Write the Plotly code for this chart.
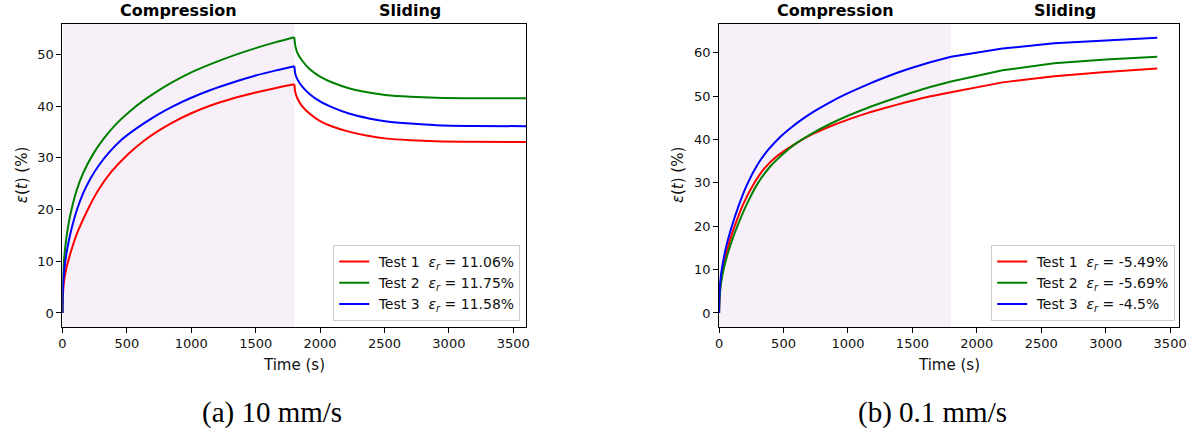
import plotly.graph_objects as go

# ---------------- data: (a) 10 mm/s ----------------
a_t1 = [0, 2, 6, 15, 30, 51, 80, 120, 197, 280, 380, 505, 633, 750, 854, 1000, 1150, 1328, 1500, 1650, 1800,
        1808, 1825, 1860, 1920, 2000, 2100, 2230, 2380, 2520, 2700, 2900, 3200, 3600]
a_v1 = [0, 2.5, 4.5, 6.6, 8.6, 10.6, 13.0, 15.8, 20.0, 23.8, 27.3, 30.6, 33.3, 35.3, 36.8, 38.6, 40.1, 41.5, 42.6, 43.45, 44.2,
        42.6, 41.4, 40.0, 38.5, 37.1, 36.0, 35.0, 34.2, 33.7, 33.4, 33.2, 33.1, 33.05]

a_t2 = [0, 2, 5, 13, 30, 50, 72, 110, 160, 240, 320, 420, 520, 620, 720, 854, 1000, 1150, 1330, 1500, 1650, 1800,
        1808, 1825, 1860, 1920, 2000, 2100, 2230, 2380, 2520, 2700, 2900, 3200, 3600]
a_v2 = [0, 4.5, 7.3, 10.5, 14.4, 17.6, 20.2, 23.7, 27.0, 30.8, 33.7, 36.6, 38.9, 40.9, 42.6, 44.6, 46.5, 48.1, 49.8, 51.2, 52.3, 53.3,
        51.6, 50.2, 48.8, 47.1, 45.7, 44.5, 43.4, 42.6, 42.1, 41.8, 41.6, 41.5, 41.5]

a_t3 = [0, 2, 6, 15, 31, 55, 80, 113, 160, 220, 290, 364, 450, 550, 650, 750, 854, 1000, 1150, 1328, 1500, 1650, 1800,
        1808, 1825, 1860, 1920, 2000, 2100, 2230, 2380, 2520, 2700, 2900, 3200, 3600]
a_v3 = [0, 3.5, 5.9, 8.5, 11.5, 14.6, 17.2, 20.0, 23.1, 26.1, 28.8, 31.1, 33.3, 35.25, 36.95, 38.5, 39.9, 41.6, 43.1, 44.6, 45.9, 46.85, 47.7,
        46.2, 45.1, 43.8, 42.3, 40.9, 39.7, 38.5, 37.6, 37.0, 36.6, 36.3, 36.15, 36.1]

# ---------------- data: (b) 0.1 mm/s ----------------
b_t1 = [0, 3, 10, 25, 42, 80, 125, 190, 265, 350, 450, 600, 720, 850, 1000, 1150, 1300, 1450, 1600, 1800, 2200, 2600, 3000, 3400]
b_v1 = [0, 3.6, 6.4, 9.5, 12.0, 16.4, 20.4, 25.3, 29.6, 33.3, 36.2, 39.2, 41.2, 42.9, 44.6, 46.1, 47.4, 48.6, 49.7, 50.9, 53.2, 54.6, 55.6, 56.4]

b_t2 = [0, 3, 10, 25, 50, 95, 148, 220, 300, 400, 500, 600, 720, 860, 1000, 1150, 1300, 1450, 1600, 1800, 2200, 2600, 3000, 3400]
b_v2 = [0, 3.0, 5.6, 8.6, 11.9, 16.3, 20.5, 25.4, 29.9, 33.9, 36.8, 39.2, 41.4, 43.6, 45.5, 47.3, 48.9, 50.4, 51.8, 53.4, 56.0, 57.6, 58.5, 59.1]

b_t3 = [0, 3, 10, 30, 60, 100, 150, 215, 300, 380, 470, 560, 660, 760, 860, 1000, 1150, 1300, 1450, 1600, 1800, 2200, 2600, 3000, 3400]
b_v3 = [0, 4.2, 7.7, 11.7, 15.9, 20.1, 24.6, 29.5, 34.3, 37.6, 40.5, 42.8, 45.0, 46.9, 48.6, 50.7, 52.7, 54.5, 56.1, 57.5, 59.1, 61.0, 62.2, 62.9, 63.5]

labels_a = ["11.06%", "11.75%", "11.58%"]
labels_b = ["-5.49%", "-5.69%", "-4.5%"]
test_names = ["Test 1", "Test 2", "Test 3"]
colors = ["#ff0000", "#008000", "#0000ff"]
x_ticks = [0, 500, 1000, 1500, 2000, 2500, 3000, 3500]
captions = ["(a) 10 mm/s", "(b) 0.1 mm/s"]
phase_titles = ["Compression", "Sliding"]
t_switch = 1800

W, H = 1203, 434
FONT = "DejaVu Sans"

fig = go.Figure()

def leg_text(name, val):
    return f"\u00a0{name}\u00a0\u00a0<i>ε</i><sub><i>r</i></sub> = {val}"

def add_series(t, v, color, label, xa, ya, leg, slide_shape):
    k = t.index(t_switch)
    # compression phase (smooth)
    fig.add_trace(go.Scatter(x=t[:k + 1], y=v[:k + 1], mode="lines",
                             line=dict(color=color, width=2, shape="spline", smoothing=0.8),
                             name=label, xaxis=xa, yaxis=ya, legend=leg, legendgroup=label + xa))
    # sliding phase
    fig.add_trace(go.Scatter(x=t[k:], y=v[k:], mode="lines",
                             line=dict(color=color, width=2, shape=slide_shape, smoothing=0.8),
                             name=label, xaxis=xa, yaxis=ya, legend=leg, legendgroup=label + xa,
                             showlegend=False))

sets_a = [(a_t1, a_v1), (a_t2, a_v2), (a_t3, a_v3)]
sets_b = [(b_t1, b_v1), (b_t2, b_v2), (b_t3, b_v3)]
for i, (t, v) in enumerate(sets_a):
    add_series(t, v, colors[i], leg_text(test_names[i], labels_a[i]), "x", "y", "legend", "spline")
for i, (t, v) in enumerate(sets_b):
    add_series(t, v, colors[i], leg_text(test_names[i], labels_b[i]), "x2", "y2", "legend2", "linear")

y_top = 1 - 24 / H
y_bot = 1 - 326.7 / H
dom_a = [59 / W, 527 / W]
dom_b = [721.7 / W, 1186 / W]
xr_a = [0, 3600]
xr_b = [0, 3570]
yr_a = [-2.66, 55.86]
yr_b = [-3.17, 66.67]

axis_common = dict(showline=True, mirror=True, linecolor="black", linewidth=1, ticks="outside",
                   ticklen=5, tickwidth=1, tickcolor="black", showgrid=False, zeroline=False,
                   tickfont=dict(family=FONT, size=13, color="#111"))

legend_common = dict(xanchor="right", yanchor="bottom", bgcolor="white",
                     bordercolor="#cccccc", borderwidth=1, font=dict(family=FONT, size=14, color="#111"),
                     itemwidth=30, tracegroupgap=0)

fig.update_layout(
    width=W, height=H, margin=dict(l=0, r=0, t=0, b=0),
    paper_bgcolor="white", plot_bgcolor="white",
    xaxis=dict(domain=dom_a, range=xr_a, anchor="y", tickvals=x_ticks, **axis_common),
    yaxis=dict(domain=[y_bot, y_top], range=yr_a, anchor="x", tickvals=[0, 10, 20, 30, 40, 50], **axis_common),
    xaxis2=dict(domain=dom_b, range=xr_b, anchor="y2", tickvals=x_ticks, **axis_common),
    yaxis2=dict(domain=[y_bot, y_top], range=yr_b, anchor="x2", tickvals=[0, 10, 20, 30, 40, 50, 60], **axis_common),
    legend=dict(x=521 / W, y=1 - 321 / H, **legend_common),
    legend2=dict(x=1182 / W, y=1 - 321 / H, **legend_common),
    showlegend=True,
)

shapes = []
annotations = []
for xref, yref, xr, dom in [("x", "y", xr_a, dom_a), ("x2", "y2", xr_b, dom_b)]:
    shapes.append(dict(type="rect", xref=xref, yref=f"{yref} domain", x0=0, x1=t_switch, y0=0, y1=1,
                       fillcolor="rgba(128,0,128,0.06)", line=dict(width=0), layer="below"))
    annotations.append(dict(x=t_switch / 2, xref=xref, y=1 - 11 / H, yref="paper", text=f"<b>{phase_titles[0]}</b>",
                            showarrow=False, font=dict(family=FONT, size=16, color="black"),
                            xanchor="center", yanchor="middle"))
    annotations.append(dict(x=(t_switch + xr[1]) / 2, xref=xref, y=1 - 11 / H, yref="paper", text=f"<b>{phase_titles[1]}</b>",
                            showarrow=False, font=dict(family=FONT, size=16, color="black"),
                            xanchor="center", yanchor="middle"))
    annotations.append(dict(x=(dom[0] + dom[1]) / 2, xref="paper", y=1 - 365 / H, yref="paper", text="Time (s)",
                            showarrow=False, font=dict(family=FONT, size=15, color="#111"),
                            xanchor="center", yanchor="middle"))

annotations.append(dict(x=270 / W, xref="paper", y=1 - 412 / H, yref="paper", text=captions[0],
                        showarrow=False, font=dict(family="Liberation Serif", size=29, color="black"),
                        xanchor="center", yanchor="middle"))
annotations.append(dict(x=937 / W, xref="paper", y=1 - 412 / H, yref="paper", text=captions[1],
                        showarrow=False, font=dict(family="Liberation Serif", size=29, color="black"),
                        xanchor="center", yanchor="middle"))

for xp in [19 / W, 681 / W]:
    annotations.append(dict(x=xp, xref="paper", y=(y_top + y_bot) / 2, yref="paper", text="<i>ε</i>(<i>t</i>) (%)",
                            textangle=-90, showarrow=False, font=dict(family=FONT, size=15, color="#111"),
                            xanchor="center", yanchor="middle"))

fig.update_layout(shapes=shapes, annotations=annotations)
fig.write_html("out.html")
